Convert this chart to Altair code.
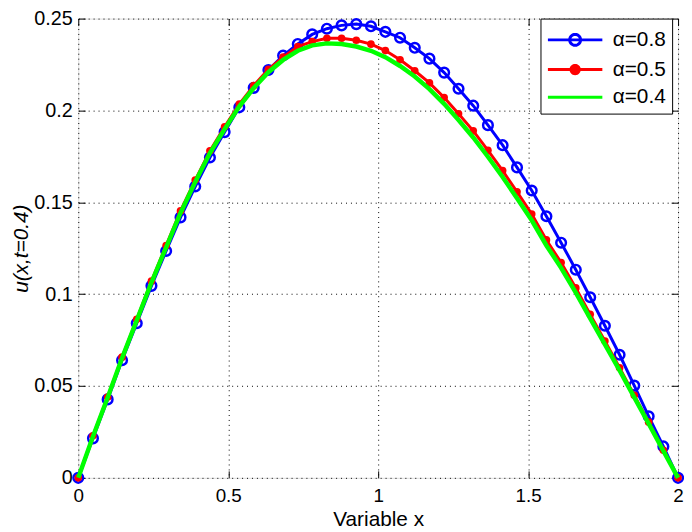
import math
import altair as alt
import pandas as pd

FONT = "Liberation Sans"

x_vals = [0.000, 0.049, 0.098, 0.146, 0.195, 0.244, 0.293, 0.341, 0.390, 0.439,
          0.488, 0.537, 0.585, 0.634, 0.683, 0.732, 0.780, 0.829, 0.878, 0.927,
          0.976, 1.024, 1.073, 1.122, 1.171, 1.220, 1.268, 1.317, 1.366, 1.415,
          1.463, 1.512, 1.561, 1.610, 1.659, 1.707, 1.756, 1.805, 1.854, 1.902,
          1.951, 2.000]

u_alpha08 = [0.0, 0.0215, 0.0427, 0.0640, 0.0842, 0.1045, 0.1235, 0.1418, 0.1586, 0.1744,
             0.1882, 0.2017, 0.2123, 0.2220, 0.2299, 0.2362, 0.2414, 0.2445, 0.2463, 0.2470,
             0.2458, 0.2428, 0.2396, 0.2341, 0.2282, 0.2206, 0.2118, 0.2026, 0.1920, 0.1811,
             0.1690, 0.1564, 0.1424, 0.1280, 0.1133, 0.0983, 0.0828, 0.0670, 0.0502, 0.0335,
             0.0171, 0.0]

u_alpha05 = [0.0, 0.0229, 0.0440, 0.0657, 0.0863, 0.1071, 0.1265, 0.1453, 0.1621, 0.1780,
             0.1911, 0.2035, 0.2135, 0.2224, 0.2290, 0.2347, 0.2375, 0.2393, 0.2393, 0.2382,
             0.2361, 0.2326, 0.2276, 0.2216, 0.2150, 0.2070, 0.1982, 0.1889, 0.1783, 0.1672,
             0.1557, 0.1436, 0.1295, 0.1172, 0.1034, 0.0890, 0.0745, 0.0599, 0.0449, 0.0303,
             0.0150, 0.0]

u_alpha04 = [0.0, 0.0225, 0.0437, 0.0652, 0.0857, 0.1063, 0.1255, 0.1442, 0.1610, 0.1768,
             0.1898, 0.2022, 0.2122, 0.2208, 0.2275, 0.2325, 0.2354, 0.2365, 0.2362, 0.2348,
             0.2325, 0.2290, 0.2242, 0.2185, 0.2116, 0.2036, 0.1948, 0.1853, 0.1748, 0.1638,
             0.1522, 0.1402, 0.1265, 0.1143, 0.1008, 0.0868, 0.0727, 0.0585, 0.0438, 0.0295,
             0.0147, 0.0]

series_names = ["α=0.8", "α=0.5", "α=0.4"]
series_colors = ["#0000ff", "#ff0000", "#00ff00"]
series_fills = ["transparent", "#ff0000", "transparent"]
series_widths = [3, 3, 4.5]
x_ticks = [0, 0.5, 1, 1.5, 2]
y_ticks = [0, 0.05, 0.1, 0.15, 0.2, 0.25]

rows = []
for name, ys in zip(series_names, [u_alpha08, u_alpha05, u_alpha04]):
    for xv, yv in zip(x_vals, ys):
        rows.append({"x": xv, "u": yv, "series": name})
df = pd.DataFrame(rows)

# legend symbol: a 55px line with the marker in its middle (symbol box 28px, scale 14px/unit)
SYM_SIZE = 784
half = math.sqrt(SYM_SIZE) / 2
line_end = (55 - half) / half
mid = (27.5 - half) / half


def ring(cx, r, n=28):
    pts = [(cx + r * math.cos(2 * math.pi * k / n), r * math.sin(2 * math.pi * k / n)) for k in range(n)]
    return "M" + "L".join(f"{a:.4f},{b:.4f}" for a, b in pts) + "Z"


line_path = f"M-1,0L{line_end:.4f},0"
series_shapes = [line_path + ring(mid, 5.5 / half), line_path + ring(mid, 4.2 / half), line_path]

legend = alt.Legend(
    title=None, orient="none", legendX=467, legendY=0,
    strokeColor="black", fillColor="white", padding=6,
    labelFont=FONT, labelFontSize=21, labelColor="black",
    symbolSize=SYM_SIZE, symbolOpacity=1,
    labelOffset=int(64 - 2 * half), rowPadding=2,
)

xs = alt.Scale(domain=[0, 2], nice=False, zero=False)
ys = alt.Scale(domain=[0, 0.25], nice=False, zero=False)

main_x = alt.Axis(orient="bottom", values=x_ticks, format="~g", grid=True, gridColor="black",
                  gridDash=[1, 4], gridWidth=1, gridOpacity=1, ticks=False, domain=False,
                  labelPadding=9, labelFont=FONT, labelFontSize=19, labelColor="black",
                  title="Variable x", titleFont=FONT, titleFontSize=21, titleFontWeight="normal",
                  titleColor="black", titlePadding=3, labelFlush=False)
main_y = alt.Axis(orient="left", values=y_ticks, format="~g", grid=True, gridColor="black",
                  gridDash=[1, 4], gridWidth=1, gridOpacity=1, ticks=False, domain=False,
                  labelPadding=6, labelFont=FONT, labelFontSize=20, labelColor="black",
                  title="u(x,t=0.4)", titleFont=FONT, titleFontSize=21, titleFontWeight="normal",
                  titleFontStyle="italic", titleColor="black", titlePadding=2, labelFlush=False)


def tick_axis(orient, vals):
    return alt.Axis(orient=orient, values=vals, labels=False, grid=False, domain=False,
                    ticks=True, tickSize=7, tickColor="black", tickWidth=1, offset=-7, title=None)


base = alt.Chart(df)

blue_line = base.transform_filter(alt.datum.series == "α=0.8").mark_line(
    strokeWidth=3, color="#0000ff").encode(
    x=alt.X("x:Q", scale=xs, axis=main_x),
    y=alt.Y("u:Q", scale=ys, axis=main_y),
)
blue_pts = base.transform_filter(alt.datum.series == "α=0.8").mark_point(
    shape="circle", filled=False, size=95, strokeWidth=2.5, color="#0000ff", opacity=1).encode(
    x=alt.X("x:Q", scale=xs, axis=tick_axis("bottom", x_ticks)),
    y=alt.Y("u:Q", scale=ys, axis=tick_axis("left", y_ticks)),
)
red_line = base.transform_filter(alt.datum.series == "α=0.5").mark_line(
    strokeWidth=3, color="#ff0000").encode(
    x=alt.X("x:Q", scale=xs, axis=tick_axis("top", x_ticks)),
    y=alt.Y("u:Q", scale=ys, axis=tick_axis("right", y_ticks)),
)
red_pts = base.transform_filter(alt.datum.series == "α=0.5").mark_circle(
    size=60, color="#ff0000", opacity=1).encode(
    x=alt.X("x:Q", scale=xs, axis=None),
    y=alt.Y("u:Q", scale=ys, axis=None),
)
green_line = base.transform_filter(alt.datum.series == "α=0.4").mark_line(
    strokeWidth=4.5, color="#00ff00").encode(
    x=alt.X("x:Q", scale=xs, axis=None),
    y=alt.Y("u:Q", scale=ys, axis=None),
)
legend_layer = base.transform_filter("false").mark_point(opacity=1).encode(
    x=alt.X("x:Q", scale=xs, axis=None),
    y=alt.Y("u:Q", scale=ys, axis=None),
    shape=alt.Shape("series:N", scale=alt.Scale(domain=series_names, range=series_shapes), legend=legend),
    stroke=alt.Stroke("series:N", scale=alt.Scale(domain=series_names, range=series_colors), legend=legend),
    fill=alt.Fill("series:N", scale=alt.Scale(domain=series_names, range=series_fills), legend=legend),
    strokeWidth=alt.StrokeWidth("series:N", scale=alt.Scale(domain=series_names, range=series_widths), legend=legend),
)

chart = alt.layer(blue_line, blue_pts, red_line, red_pts, green_line, legend_layer).resolve_axis(
    x="independent", y="independent"
).properties(
    width=606, height=464,
    autosize=alt.AutoSizeParams(type="none"),
    padding={"left": 71, "top": 8, "right": 6, "bottom": 50},
).configure_view(stroke="black", strokeWidth=1).configure(background="white")

chart.save("out.html", embed_options={"renderer": "svg", "actions": False})
